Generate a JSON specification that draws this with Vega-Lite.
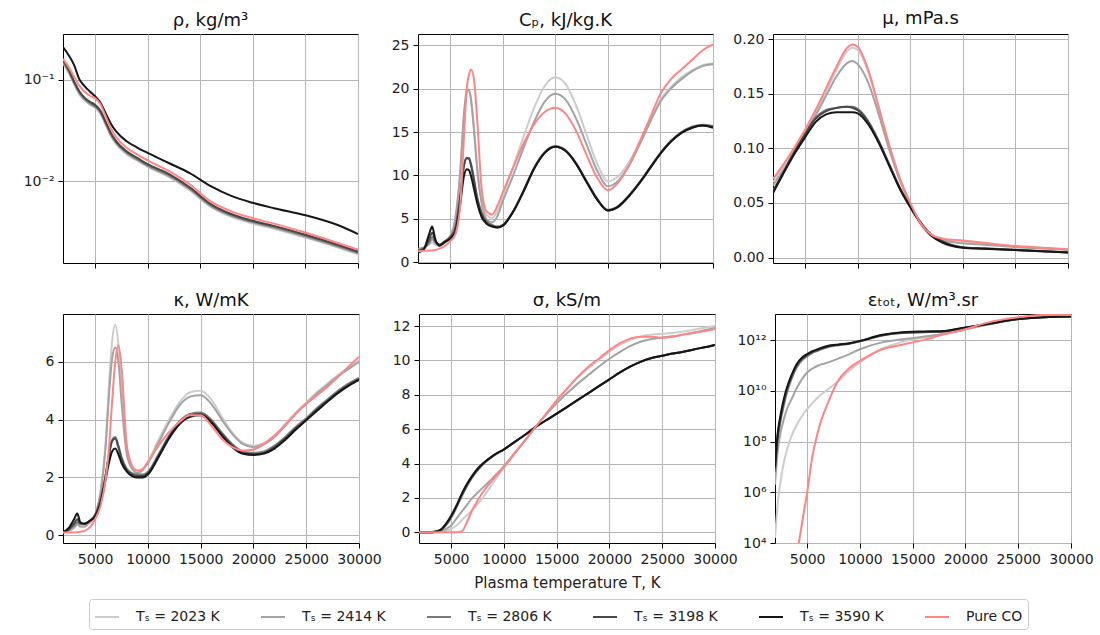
{
"$schema": "https://vega.github.io/schema/vega-lite/v6.json",
"padding": {"left": 5, "top": 9, "right": 5, "bottom": 0},
"background": "white",
"datasets": {"d": [
{"p":"rho","T":1950,"2023":0.147,"2414":0.150,"2806":0.154,"3198":0.158,"3590":0.211,"CO":0.162},
{"p":"rho","T":2500,"2023":0.117,"2414":0.120,"2806":0.123,"3198":0.126,"3590":0.175,"CO":0.134},
{"p":"rho","T":3000,"2023":0.091,"2414":0.093,"2806":0.095,"3198":0.097,"3590":0.141,"CO":0.108},
{"p":"rho","T":3500,"2023":0.072,"2414":0.074,"2806":0.0757,"3198":0.0775,"3590":0.102,"CO":0.088},
{"p":"rho","T":4000,"2023":0.0625,"2414":0.064,"2806":0.0655,"3198":0.067,"3590":0.087,"CO":0.077},
{"p":"rho","T":4500,"2023":0.057,"2414":0.058,"2806":0.0595,"3198":0.061,"3590":0.077,"CO":0.070},
{"p":"rho","T":5000,"2023":0.053,"2414":0.054,"2806":0.0554,"3198":0.0567,"3590":0.069,"CO":0.066},
{"p":"rho","T":5500,"2023":0.0465,"2414":0.0476,"2806":0.0487,"3198":0.0498,"3590":0.060,"CO":0.058},
{"p":"rho","T":6000,"2023":0.0361,"2414":0.0369,"2806":0.0378,"3198":0.0387,"3590":0.047,"CO":0.044},
{"p":"rho","T":6500,"2023":0.028,"2414":0.0286,"2806":0.0293,"3198":0.030,"3590":0.037,"CO":0.0333},
{"p":"rho","T":7000,"2023":0.0232,"2414":0.0237,"2806":0.0243,"3198":0.0249,"3590":0.031,"CO":0.0273},
{"p":"rho","T":8000,"2023":0.0184,"2414":0.0189,"2806":0.0193,"3198":0.0197,"3590":0.0248,"CO":0.0214},
{"p":"rho","T":9000,"2023":0.0159,"2414":0.0162,"2806":0.0166,"3198":0.017,"3590":0.0215,"CO":0.0184},
{"p":"rho","T":10000,"2023":0.0138,"2414":0.0141,"2806":0.0144,"3198":0.0147,"3590":0.019,"CO":0.016},
{"p":"rho","T":12000,"2023":0.011,"2414":0.0112,"2806":0.0115,"3198":0.0118,"3590":0.0151,"CO":0.0126},
{"p":"rho","T":14000,"2023":0.0081,"2414":0.0083,"2806":0.00846,"3198":0.0087,"3590":0.012,"CO":0.0093},
{"p":"rho","T":16000,"2023":0.00555,"2414":0.00567,"2806":0.0058,"3198":0.00593,"3590":0.0089,"CO":0.0063},
{"p":"rho","T":18000,"2023":0.0044,"2414":0.0045,"2806":0.0046,"3198":0.0047,"3590":0.0071,"CO":0.0050},
{"p":"rho","T":20000,"2023":0.0038,"2414":0.0039,"2806":0.00396,"3198":0.00405,"3590":0.0061,"CO":0.0043},
{"p":"rho","T":22000,"2023":0.00338,"2414":0.00345,"2806":0.00353,"3198":0.00361,"3590":0.0054,"CO":0.0038},
{"p":"rho","T":25000,"2023":0.00276,"2414":0.00282,"2806":0.00288,"3198":0.00295,"3590":0.0046,"CO":0.0031},
{"p":"rho","T":28000,"2023":0.00222,"2414":0.00226,"2806":0.00231,"3198":0.00236,"3590":0.0037,"CO":0.00246},
{"p":"rho","T":30000,"2023":0.00189,"2414":0.00193,"2806":0.00197,"3198":0.00201,"3590":0.0030,"CO":0.0021},

{"p":"cp","T":1950,"2023":1.5,"2414":1.5,"2806":1.4,"3198":1.3,"3590":1.1,"CO":1.25},
{"p":"cp","T":2500,"2023":1.7,"2414":1.7,"2806":1.6,"3198":1.5,"3590":1.5,"CO":1.3},
{"p":"cp","T":3000,"2023":2.0,"2414":2.1,"2806":2.3,"3198":2.6,"3590":3.2,"CO":1.35},
{"p":"cp","T":3300,"2023":2.3,"2414":2.6,"2806":2.9,"3198":3.4,"3590":4.1,"CO":1.35},
{"p":"cp","T":3600,"2023":2.0,"2414":2.2,"2806":2.3,"3198":2.5,"3590":2.6,"CO":1.4},
{"p":"cp","T":4000,"2023":1.9,"2414":2.0,"2806":2.0,"3198":2.0,"3590":1.9,"CO":1.55},
{"p":"cp","T":4500,"2023":2.2,"2414":2.3,"2806":2.4,"3198":2.4,"3590":2.3,"CO":1.85},
{"p":"cp","T":5000,"2023":2.9,"2414":3.0,"2806":2.9,"3198":2.8,"3590":2.7,"CO":2.4},
{"p":"cp","T":5500,"2023":5.0,"2414":5.0,"2806":4.0,"3198":3.8,"3590":3.5,"CO":3.2},
{"p":"cp","T":6000,"2023":11.0,"2414":11.0,"2806":8.0,"3198":7.8,"3590":7.0,"CO":7.0},
{"p":"cp","T":6300,"2023":16.5,"2414":16.8,"2806":11.0,"3198":11.0,"3590":9.8,"CO":14.0},
{"p":"cp","T":6600,"2023":19.5,"2414":19.8,"2806":12.0,"3198":12.0,"3590":10.7,"CO":20.2},
{"p":"cp","T":6800,"2023":19.8,"2414":19.9,"2806":12.0,"3198":11.9,"3590":10.6,"CO":21.6},
{"p":"cp","T":7000,"2023":18.8,"2414":18.6,"2806":11.3,"3198":11.1,"3590":9.9,"CO":22.2},
{"p":"cp","T":7300,"2023":15.2,"2414":14.8,"2806":9.4,"3198":9.2,"3590":8.3,"CO":20.8},
{"p":"cp","T":7600,"2023":10.8,"2414":10.4,"2806":7.4,"3198":7.2,"3590":6.7,"CO":16.0},
{"p":"cp","T":8000,"2023":7.2,"2414":6.8,"2806":5.7,"3198":5.5,"3590":5.2,"CO":8.5},
{"p":"cp","T":8500,"2023":5.4,"2414":4.9,"2806":4.7,"3198":4.5,"3590":4.4,"CO":5.8},
{"p":"cp","T":9000,"2023":5.1,"2414":4.6,"2806":4.3,"3198":4.15,"3590":4.1,"CO":5.5},
{"p":"cp","T":9500,"2023":5.9,"2414":5.3,"2806":4.1,"3198":4.0,"3590":4.0,"CO":6.5},
{"p":"cp","T":10000,"2023":7.6,"2414":7.0,"2806":4.3,"3198":4.2,"3590":4.2,"CO":8.0},
{"p":"cp","T":11000,"2023":11.0,"2414":10.0,"2806":5.9,"3198":5.8,"3590":5.8,"CO":10.9},
{"p":"cp","T":12000,"2023":14.5,"2414":13.2,"2806":8.3,"3198":8.2,"3590":8.2,"CO":13.7},
{"p":"cp","T":13000,"2023":17.8,"2414":16.2,"2806":10.9,"3198":10.8,"3590":10.8,"CO":15.9},
{"p":"cp","T":14000,"2023":20.3,"2414":18.5,"2806":12.7,"3198":12.6,"3590":12.6,"CO":17.3},
{"p":"cp","T":15000,"2023":21.3,"2414":19.4,"2806":13.4,"3198":13.3,"3590":13.3,"CO":17.8},
{"p":"cp","T":16000,"2023":20.5,"2414":18.7,"2806":12.9,"3198":12.8,"3590":12.8,"CO":17.1},
{"p":"cp","T":17000,"2023":18.0,"2414":16.5,"2806":11.4,"3198":11.3,"3590":11.3,"CO":15.1},
{"p":"cp","T":18000,"2023":14.6,"2414":13.5,"2806":9.3,"3198":9.2,"3590":9.2,"CO":12.3},
{"p":"cp","T":19000,"2023":11.3,"2414":10.5,"2806":7.3,"3198":7.2,"3590":7.2,"CO":9.7},
{"p":"cp","T":20000,"2023":9.3,"2414":8.75,"2806":6.05,"3198":5.95,"3590":5.95,"CO":8.3},
{"p":"cp","T":21000,"2023":9.9,"2414":9.4,"2806":6.5,"3198":6.4,"3590":6.4,"CO":9.2},
{"p":"cp","T":22000,"2023":11.5,"2414":11.1,"2806":7.7,"3198":7.6,"3590":7.6,"CO":11.1},
{"p":"cp","T":23000,"2023":13.8,"2414":13.5,"2806":9.2,"3198":9.1,"3590":9.1,"CO":13.8},
{"p":"cp","T":24000,"2023":16.3,"2414":16.1,"2806":10.9,"3198":10.8,"3590":10.8,"CO":16.6},
{"p":"cp","T":25000,"2023":18.7,"2414":18.5,"2806":12.6,"3198":12.5,"3590":12.5,"CO":19.4},
{"p":"cp","T":26000,"2023":20.2,"2414":20.0,"2806":14.0,"3198":13.9,"3590":13.9,"CO":21.1},
{"p":"cp","T":27000,"2023":21.3,"2414":21.1,"2806":15.0,"3198":14.9,"3590":14.9,"CO":22.2},
{"p":"cp","T":28000,"2023":22.1,"2414":22.0,"2806":15.6,"3198":15.5,"3590":15.5,"CO":23.3},
{"p":"cp","T":29000,"2023":22.7,"2414":22.6,"2806":15.85,"3198":15.75,"3590":15.75,"CO":24.4},
{"p":"cp","T":30000,"2023":22.9,"2414":22.8,"2806":15.7,"3198":15.6,"3590":15.5,"CO":25.1},

{"p":"mu","T":1950,"2023":0.069,"2414":0.066,"2806":0.061,"3198":0.060,"3590":0.059,"CO":0.072},
{"p":"mu","T":3000,"2023":0.084,"2414":0.081,"2806":0.079,"3198":0.079,"3590":0.078,"CO":0.086},
{"p":"mu","T":4000,"2023":0.099,"2414":0.097,"2806":0.097,"3198":0.097,"3590":0.095,"CO":0.101},
{"p":"mu","T":5000,"2023":0.115,"2414":0.113,"2806":0.113,"3198":0.113,"3590":0.110,"CO":0.117},
{"p":"mu","T":6000,"2023":0.133,"2414":0.130,"2806":0.128,"3198":0.127,"3590":0.124,"CO":0.135},
{"p":"mu","T":7000,"2023":0.152,"2414":0.148,"2806":0.135,"3198":0.134,"3590":0.131,"CO":0.155},
{"p":"mu","T":8000,"2023":0.172,"2414":0.166,"2806":0.137,"3198":0.137,"3590":0.133,"CO":0.175},
{"p":"mu","T":9000,"2023":0.189,"2414":0.178,"2806":0.138,"3198":0.138,"3590":0.133,"CO":0.192},
{"p":"mu","T":9500,"2023":0.192,"2414":0.180,"2806":0.138,"3198":0.137,"3590":0.133,"CO":0.195},
{"p":"mu","T":10000,"2023":0.190,"2414":0.177,"2806":0.136,"3198":0.135,"3590":0.132,"CO":0.193},
{"p":"mu","T":11000,"2023":0.170,"2414":0.160,"2806":0.125,"3198":0.124,"3590":0.122,"CO":0.172},
{"p":"mu","T":12000,"2023":0.137,"2414":0.131,"2806":0.107,"3198":0.106,"3590":0.105,"CO":0.138},
{"p":"mu","T":13000,"2023":0.102,"2414":0.099,"2806":0.0855,"3198":0.085,"3590":0.084,"CO":0.103},
{"p":"mu","T":14000,"2023":0.072,"2414":0.071,"2806":0.064,"3198":0.064,"3590":0.063,"CO":0.073},
{"p":"mu","T":15000,"2023":0.050,"2414":0.049,"2806":0.047,"3198":0.047,"3590":0.046,"CO":0.050},
{"p":"mu","T":16000,"2023":0.031,"2414":0.031,"2806":0.032,"3198":0.032,"3590":0.031,"CO":0.031},
{"p":"mu","T":17000,"2023":0.021,"2414":0.020,"2806":0.021,"3198":0.021,"3590":0.020,"CO":0.021},
{"p":"mu","T":18000,"2023":0.017,"2414":0.016,"2806":0.0153,"3198":0.015,"3590":0.014,"CO":0.0175},
{"p":"mu","T":20000,"2023":0.0148,"2414":0.013,"2806":0.0095,"3198":0.0093,"3590":0.009,"CO":0.0155},
{"p":"mu","T":22000,"2023":0.013,"2414":0.0118,"2806":0.0085,"3198":0.0083,"3590":0.008,"CO":0.0135},
{"p":"mu","T":25000,"2023":0.0102,"2414":0.0095,"2806":0.0072,"3198":0.007,"3590":0.0068,"CO":0.0105},
{"p":"mu","T":28000,"2023":0.0085,"2414":0.008,"2806":0.0058,"3198":0.0056,"3590":0.0055,"CO":0.0088},
{"p":"mu","T":30000,"2023":0.0072,"2414":0.007,"2806":0.0048,"3198":0.0046,"3590":0.0045,"CO":0.0075},

{"p":"k","T":1950,"2023":0.1,"2414":0.1,"2806":0.1,"3198":0.1,"3590":0.1,"CO":0.09},
{"p":"k","T":2500,"2023":0.15,"2414":0.15,"2806":0.2,"3198":0.2,"3590":0.25,"CO":0.09},
{"p":"k","T":3000,"2023":0.25,"2414":0.27,"2806":0.35,"3198":0.4,"3590":0.55,"CO":0.09},
{"p":"k","T":3300,"2023":0.35,"2414":0.4,"2806":0.45,"3198":0.55,"3590":0.75,"CO":0.1},
{"p":"k","T":3600,"2023":0.3,"2414":0.3,"2806":0.4,"3198":0.4,"3590":0.45,"CO":0.12},
{"p":"k","T":4000,"2023":0.3,"2414":0.3,"2806":0.4,"3198":0.4,"3590":0.4,"CO":0.15},
{"p":"k","T":4500,"2023":0.45,"2414":0.45,"2806":0.5,"3198":0.5,"3590":0.5,"CO":0.27},
{"p":"k","T":5000,"2023":0.7,"2414":0.7,"2806":0.7,"3198":0.7,"3590":0.65,"CO":0.56},
{"p":"k","T":5500,"2023":1.5,"2414":1.45,"2806":1.2,"3198":1.2,"3590":1.1,"CO":1.0},
{"p":"k","T":6000,"2023":3.3,"2414":3.1,"2806":2.1,"3198":2.1,"3590":1.95,"CO":1.95},
{"p":"k","T":6300,"2023":5.2,"2414":4.8,"2806":2.8,"3198":2.75,"3590":2.5,"CO":3.0},
{"p":"k","T":6600,"2023":6.7,"2414":6.1,"2806":3.3,"3198":3.25,"3590":2.9,"CO":4.6},
{"p":"k","T":6900,"2023":7.3,"2414":6.5,"2806":3.4,"3198":3.35,"3590":3.0,"CO":6.0},
{"p":"k","T":7200,"2023":6.6,"2414":6.0,"2806":3.1,"3198":3.05,"3590":2.8,"CO":6.58},
{"p":"k","T":7500,"2023":5.0,"2414":4.6,"2806":2.7,"3198":2.65,"3590":2.5,"CO":5.8},
{"p":"k","T":8000,"2023":3.0,"2414":2.8,"2806":2.3,"3198":2.25,"3590":2.2,"CO":3.1},
{"p":"k","T":8500,"2023":2.35,"2414":2.3,"2806":2.15,"3198":2.1,"3590":2.05,"CO":2.41},
{"p":"k","T":9000,"2023":2.2,"2414":2.15,"2806":2.1,"3198":2.05,"3590":2.0,"CO":2.24},
{"p":"k","T":9500,"2023":2.3,"2414":2.25,"2806":2.1,"3198":2.05,"3590":2.0,"CO":2.29},
{"p":"k","T":10000,"2023":2.55,"2414":2.5,"2806":2.2,"3198":2.15,"3590":2.1,"CO":2.53},
{"p":"k","T":11000,"2023":3.3,"2414":3.2,"2806":2.8,"3198":2.75,"3590":2.7,"CO":3.1},
{"p":"k","T":12000,"2023":4.0,"2414":3.9,"2806":3.45,"3198":3.4,"3590":3.35,"CO":3.57},
{"p":"k","T":13000,"2023":4.6,"2414":4.5,"2806":3.95,"3198":3.9,"3590":3.85,"CO":3.92},
{"p":"k","T":14000,"2023":4.95,"2414":4.8,"2806":4.2,"3198":4.15,"3590":4.1,"CO":4.15},
{"p":"k","T":15000,"2023":5.0,"2414":4.85,"2806":4.25,"3198":4.2,"3590":4.15,"CO":4.15},
{"p":"k","T":16000,"2023":4.7,"2414":4.55,"2806":4.0,"3198":3.95,"3590":3.9,"CO":3.8},
{"p":"k","T":17000,"2023":4.1,"2414":4.0,"2806":3.55,"3198":3.5,"3590":3.45,"CO":3.34},
{"p":"k","T":18000,"2023":3.55,"2414":3.5,"2806":3.15,"3198":3.1,"3590":3.05,"CO":3.05},
{"p":"k","T":19000,"2023":3.2,"2414":3.15,"2806":2.9,"3198":2.85,"3590":2.82,"CO":2.93},
{"p":"k","T":20000,"2023":3.1,"2414":3.05,"2806":2.85,"3198":2.8,"3590":2.78,"CO":2.97},
{"p":"k","T":21000,"2023":3.2,"2414":3.15,"2806":2.9,"3198":2.85,"3590":2.83,"CO":3.16},
{"p":"k","T":22000,"2023":3.45,"2414":3.4,"2806":3.1,"3198":3.05,"3590":3.0,"CO":3.45},
{"p":"k","T":23000,"2023":3.85,"2414":3.8,"2806":3.4,"3198":3.35,"3590":3.3,"CO":3.8},
{"p":"k","T":24000,"2023":4.25,"2414":4.2,"2806":3.75,"3198":3.7,"3590":3.65,"CO":4.2},
{"p":"k","T":25000,"2023":4.6,"2414":4.55,"2806":4.05,"3198":4.0,"3590":3.98,"CO":4.55},
{"p":"k","T":26000,"2023":4.95,"2414":4.9,"2806":4.4,"3198":4.35,"3590":4.3,"CO":4.84},
{"p":"k","T":27000,"2023":5.25,"2414":5.2,"2806":4.7,"3198":4.65,"3590":4.62,"CO":5.13},
{"p":"k","T":28000,"2023":5.55,"2414":5.5,"2806":5.0,"3198":4.95,"3590":4.92,"CO":5.48},
{"p":"k","T":29000,"2023":5.8,"2414":5.75,"2806":5.25,"3198":5.2,"3590":5.17,"CO":5.83},
{"p":"k","T":30000,"2023":6.05,"2414":6.0,"2806":5.45,"3198":5.4,"3590":5.38,"CO":6.18},

{"p":"sig","T":1950,"2023":0,"2414":0,"2806":0,"3198":0,"3590":0,"CO":0},
{"p":"sig","T":3000,"2023":0,"2414":0,"2806":0,"3198":0,"3590":0,"CO":0},
{"p":"sig","T":3500,"2023":0,"2414":0.01,"2806":0.03,"3198":0.04,"3590":0.05,"CO":0},
{"p":"sig","T":4000,"2023":0.02,"2414":0.05,"2806":0.12,"3198":0.14,"3590":0.15,"CO":0},
{"p":"sig","T":4500,"2023":0.08,"2414":0.2,"2806":0.4,"3198":0.45,"3590":0.5,"CO":0},
{"p":"sig","T":5000,"2023":0.2,"2414":0.4,"2806":0.85,"3198":0.92,"3590":0.97,"CO":0},
{"p":"sig","T":5500,"2023":0.4,"2414":0.8,"2806":1.45,"3198":1.5,"3590":1.56,"CO":0},
{"p":"sig","T":6000,"2023":0.7,"2414":1.2,"2806":2.1,"3198":2.17,"3590":2.24,"CO":0.05},
{"p":"sig","T":6500,"2023":1.0,"2414":1.6,"2806":2.7,"3198":2.76,"3590":2.82,"CO":0.6},
{"p":"sig","T":7000,"2023":1.3,"2414":2.0,"2806":3.2,"3198":3.25,"3590":3.3,"CO":1.3},
{"p":"sig","T":7500,"2023":1.65,"2414":2.3,"2806":3.6,"3198":3.65,"3590":3.7,"CO":1.85},
{"p":"sig","T":8000,"2023":2.0,"2414":2.6,"2806":3.95,"3198":3.97,"3590":4.0,"CO":2.33},
{"p":"sig","T":9000,"2023":2.9,"2414":3.2,"2806":4.45,"3198":4.46,"3590":4.48,"CO":3.1},
{"p":"sig","T":10000,"2023":3.8,"2414":3.85,"2806":4.82,"3198":4.82,"3590":4.83,"CO":3.8},
{"p":"sig","T":11000,"2023":4.6,"2414":4.6,"2806":5.25,"3198":5.25,"3590":5.25,"CO":4.57},
{"p":"sig","T":12000,"2023":5.35,"2414":5.35,"2806":5.68,"3198":5.68,"3590":5.68,"CO":5.35},
{"p":"sig","T":13000,"2023":6.13,"2414":6.13,"2806":6.13,"3198":6.13,"3590":6.13,"CO":6.13},
{"p":"sig","T":14000,"2023":6.9,"2414":6.85,"2806":6.52,"3198":6.52,"3590":6.52,"CO":6.9},
{"p":"sig","T":15000,"2023":7.65,"2414":7.5,"2806":6.9,"3198":6.9,"3590":6.9,"CO":7.68},
{"p":"sig","T":16000,"2023":8.35,"2414":8.1,"2806":7.3,"3198":7.3,"3590":7.3,"CO":8.37},
{"p":"sig","T":17000,"2023":9.0,"2414":8.65,"2806":7.7,"3198":7.7,"3590":7.7,"CO":9.05},
{"p":"sig","T":18000,"2023":9.55,"2414":9.15,"2806":8.1,"3198":8.1,"3590":8.1,"CO":9.63},
{"p":"sig","T":19000,"2023":10.05,"2414":9.65,"2806":8.5,"3198":8.5,"3590":8.5,"CO":10.1},
{"p":"sig","T":20000,"2023":10.5,"2414":10.1,"2806":8.9,"3198":8.9,"3590":8.9,"CO":10.6},
{"p":"sig","T":21000,"2023":10.9,"2414":10.5,"2806":9.3,"3198":9.3,"3590":9.3,"CO":11.0},
{"p":"sig","T":22000,"2023":11.2,"2414":10.85,"2806":9.65,"3198":9.65,"3590":9.65,"CO":11.28},
{"p":"sig","T":23000,"2023":11.4,"2414":11.1,"2806":9.93,"3198":9.93,"3590":9.93,"CO":11.38},
{"p":"sig","T":24000,"2023":11.5,"2414":11.25,"2806":10.14,"3198":10.14,"3590":10.14,"CO":11.38},
{"p":"sig","T":25000,"2023":11.55,"2414":11.33,"2806":10.27,"3198":10.27,"3590":10.27,"CO":11.32},
{"p":"sig","T":26000,"2023":11.6,"2414":11.4,"2806":10.4,"3198":10.4,"3590":10.4,"CO":11.38},
{"p":"sig","T":27000,"2023":11.68,"2414":11.5,"2806":10.5,"3198":10.5,"3590":10.5,"CO":11.5},
{"p":"sig","T":28000,"2023":11.78,"2414":11.6,"2806":10.64,"3198":10.64,"3590":10.64,"CO":11.63},
{"p":"sig","T":29000,"2023":11.9,"2414":11.75,"2806":10.76,"3198":10.76,"3590":10.76,"CO":11.7},
{"p":"sig","T":30000,"2023":12.0,"2414":11.9,"2806":10.9,"3198":10.9,"3590":10.9,"CO":11.83},

{"p":"eps","T":1950,"2023":1.58e4,"2414":2.0e6,"2806":6.31e6,"3198":7.94e6,"3590":1e7},
{"p":"eps","T":2200,"2023":3.16e5,"2414":3.98e7,"2806":1.12e8,"3198":1.58e8,"3590":2.0e8},
{"p":"eps","T":2500,"2023":3.16e6,"2414":2.51e8,"2806":7.08e8,"3198":1e9,"3590":1.26e9},
{"p":"eps","T":2800,"2023":1.58e7,"2414":7.94e8,"2806":2.82e9,"3198":3.98e9,"3590":5.0e9},
{"p":"eps","T":3100,"2023":5.01e7,"2414":2.0e9,"2806":8.91e9,"3198":1.26e10,"3590":1.41e10},
{"p":"eps","T":3500,"2023":1.58e8,"2414":4.47e9,"2806":2.82e10,"3198":3.55e10,"3590":3.98e10,"CO":31.6},
{"p":"eps","T":4000,"2023":4.47e8,"2414":1.26e10,"2806":8.32e10,"3198":1e11,"3590":1.12e11,"CO":2510},
{"p":"eps","T":4500,"2023":1e9,"2414":2.82e10,"2806":1.58e11,"3198":1.86e11,"3590":2.0e11,"CO":5.62e4},
{"p":"eps","T":5000,"2023":1.91e9,"2414":5.25e10,"2806":2.34e11,"3198":2.63e11,"3590":2.82e11,"CO":1e6},
{"p":"eps","T":5500,"2023":3.31e9,"2414":7.59e10,"2806":3.16e11,"3198":3.47e11,"3590":3.63e11,"CO":2.69e7},
{"p":"eps","T":6000,"2023":5.5e9,"2414":9.77e10,"2806":3.8e11,"3198":4.17e11,"3590":4.37e11,"CO":2.29e8},
{"p":"eps","T":7000,"2023":1.17e10,"2414":1.32e11,"2806":5.37e11,"3198":5.75e11,"3590":6.03e11,"CO":3.63e9},
{"p":"eps","T":8000,"2023":2.51e10,"2414":1.91e11,"2806":6.31e11,"3198":6.61e11,"3590":6.76e11,"CO":2.82e10},
{"p":"eps","T":9000,"2023":6.31e10,"2414":2.82e11,"2806":7.24e11,"3198":7.41e11,"3590":7.59e11,"CO":7.94e10},
{"p":"eps","T":10000,"2023":1.32e11,"2414":4.37e11,"2806":8.91e11,"3198":9.12e11,"3590":9.33e11,"CO":1.51e11},
{"p":"eps","T":12000,"2023":4.37e11,"2414":7.94e11,"2806":1.48e12,"3198":1.51e12,"3590":1.58e12,"CO":4.17e11},
{"p":"eps","T":14000,"2023":8.51e11,"2414":1.07e12,"2806":1.91e12,"3198":1.95e12,"3590":2.04e12,"CO":6.61e11},
{"p":"eps","T":16000,"2023":1.26e12,"2414":1.35e12,"2806":2.04e12,"3198":2.09e12,"3590":2.19e12,"CO":1e12},
{"p":"eps","T":18000,"2023":1.78e12,"2414":1.78e12,"2806":2.19e12,"3198":2.24e12,"3590":2.29e12,"CO":1.7e12},
{"p":"eps","T":20000,"2023":2.57e12,"2414":2.69e12,"2806":3.02e12,"3198":3.09e12,"3590":3.16e12,"CO":2.69e12},
{"p":"eps","T":22000,"2023":3.98e12,"2414":3.98e12,"2806":4.17e12,"3198":4.17e12,"3590":4.27e12,"CO":4.79e12},
{"p":"eps","T":25000,"2023":6.76e12,"2414":6.76e12,"2806":6.76e12,"3198":6.76e12,"3590":6.76e12,"CO":7.94e12},
{"p":"eps","T":28000,"2023":8.91e12,"2414":8.51e12,"2806":8.13e12,"3198":8.13e12,"3590":8.13e12,"CO":1e13},
{"p":"eps","T":30000,"2023":9.77e12,"2414":9.12e12,"2806":8.51e12,"3198":8.51e12,"3590":8.51e12,"CO":9.77e12}
]},
"spacing": 21,
"columns": 1,
"align": "none",
"concat": [
{"hconcat": [
{"width": 295, "height": 229, "title": "ρ, kg/m³",
 "data": {"name": "d"},
 "transform": [{"filter": "datum.p == 'rho'"}, {"fold": ["2023","2414","2806","3198","3590","CO"], "as": ["s","v"]}],
 "mark": {"type": "line", "clip": true, "interpolate": "monotone", "strokeWidth": 2},
 "encoding": {
  "x": {"field": "T", "type": "quantitative", "scale": {"domain": [1950, 30000], "nice": false, "zero": false}, "axis": {"values": [5000,10000,15000,20000,25000,30000], "labels": false, "title": null}},
  "y": {"field": "v", "type": "quantitative", "scale": {"type": "log", "domain": [0.00155, 0.285], "nice": false}, "axis": {"values": [0.01, 0.1], "labelExpr": "datum.value < 0.05 ? '10⁻²' : '10⁻¹'", "title": null, "minExtent": 48, "maxExtent": 48}},
  "color": {"field": "s", "type": "nominal", "scale": {"domain": ["2023","2414","2806","3198","3590","CO"], "range": ["#cccccc","#a3a3a3","#7a7a7a","#474747","#161616","#ff8585"]},
   "legend": {"orient": "none", "legendX": 26, "legendY": 565, "direction": "horizontal", "columns": 6, "title": null, "symbolType": "stroke", "symbolSize": 576, "symbolStrokeWidth": 2, "labelFontSize": 14, "labelOffset": 16, "columnPadding": 37, "padding": 5, "strokeColor": "#cccccc", "cornerRadius": 3, "fillColor": "white", "labelExpr": "datum.label == 'CO' ? 'Pure CO' : 'Tₛ = ' + datum.label + ' K'"}}
 }},
{"width": 295, "height": 229, "title": "Cₚ, kJ/kg.K",
 "data": {"name": "d"},
 "transform": [{"filter": "datum.p == 'cp'"}, {"fold": ["2023","2414","2806","3198","3590","CO"], "as": ["s","v"]}],
 "mark": {"type": "line", "clip": true, "interpolate": "monotone", "strokeWidth": 2},
 "encoding": {
  "x": {"field": "T", "type": "quantitative", "scale": {"domain": [1950, 30000], "nice": false, "zero": false}, "axis": {"values": [5000,10000,15000,20000,25000,30000], "labels": false, "title": null}},
  "y": {"field": "v", "type": "quantitative", "scale": {"domain": [-0.1, 26.3], "nice": false, "zero": false}, "axis": {"values": [0,5,10,15,20,25], "format": "d", "title": null}},
  "color": {"field": "s", "type": "nominal", "scale": {"domain": ["2023","2414","2806","3198","3590","CO"], "range": ["#cccccc","#a3a3a3","#7a7a7a","#474747","#161616","#ff8585"]},
   "legend": {"orient": "none", "legendX": 26, "legendY": 565, "direction": "horizontal", "columns": 6, "title": null, "symbolType": "stroke", "symbolSize": 576, "symbolStrokeWidth": 2, "labelFontSize": 14, "labelOffset": 16, "columnPadding": 37, "padding": 5, "strokeColor": "#cccccc", "cornerRadius": 3, "fillColor": "white", "labelExpr": "datum.label == 'CO' ? 'Pure CO' : 'Tₛ = ' + datum.label + ' K'"}}
 }},
{"width": 295, "height": 229, "title": "μ, mPa.s",
 "data": {"name": "d"},
 "transform": [{"filter": "datum.p == 'mu'"}, {"fold": ["2023","2414","2806","3198","3590","CO"], "as": ["s","v"]}],
 "mark": {"type": "line", "clip": true, "interpolate": "monotone", "strokeWidth": 2},
 "encoding": {
  "x": {"field": "T", "type": "quantitative", "scale": {"domain": [1950, 30000], "nice": false, "zero": false}, "axis": {"values": [5000,10000,15000,20000,25000,30000], "labels": false, "title": null}},
  "y": {"field": "v", "type": "quantitative", "scale": {"domain": [-0.005, 0.2046], "nice": false, "zero": false}, "axis": {"values": [0,0.05,0.1,0.15,0.2], "format": ".2f", "title": null}},
  "color": {"field": "s", "type": "nominal", "scale": {"domain": ["2023","2414","2806","3198","3590","CO"], "range": ["#cccccc","#a3a3a3","#7a7a7a","#474747","#161616","#ff8585"]},
   "legend": {"orient": "none", "legendX": 26, "legendY": 565, "direction": "horizontal", "columns": 6, "title": null, "symbolType": "stroke", "symbolSize": 576, "symbolStrokeWidth": 2, "labelFontSize": 14, "labelOffset": 16, "columnPadding": 37, "padding": 5, "strokeColor": "#cccccc", "cornerRadius": 3, "fillColor": "white", "labelExpr": "datum.label == 'CO' ? 'Pure CO' : 'Tₛ = ' + datum.label + ' K'"}}
 }}
], "spacing": 60, "bounds": "flush"},
{"hconcat": [
{"width": 296, "height": 229, "title": "κ, W/mK",
 "data": {"name": "d"},
 "transform": [{"filter": "datum.p == 'k'"}, {"fold": ["2023","2414","2806","3198","3590","CO"], "as": ["s","v"]}],
 "mark": {"type": "line", "clip": true, "interpolate": "monotone", "strokeWidth": 2},
 "encoding": {
  "x": {"field": "T", "type": "quantitative", "scale": {"domain": [1950, 30000], "nice": false, "zero": false}, "axis": {"values": [5000,10000,15000,20000,25000,30000], "format": "d", "labelFlush": false, "title": null}},
  "y": {"field": "v", "type": "quantitative", "scale": {"domain": [-0.27, 7.66], "nice": false, "zero": false}, "axis": {"values": [0,2,4,6], "format": "d", "title": null, "minExtent": 57, "maxExtent": 57}},
  "color": {"field": "s", "type": "nominal", "scale": {"domain": ["2023","2414","2806","3198","3590","CO"], "range": ["#cccccc","#a3a3a3","#7a7a7a","#474747","#161616","#ff8585"]},
   "legend": {"orient": "none", "legendX": 26, "legendY": 565, "direction": "horizontal", "columns": 6, "title": null, "symbolType": "stroke", "symbolSize": 576, "symbolStrokeWidth": 2, "labelFontSize": 14, "labelOffset": 16, "columnPadding": 37, "padding": 5, "strokeColor": "#cccccc", "cornerRadius": 3, "fillColor": "white", "labelExpr": "datum.label == 'CO' ? 'Pure CO' : 'Tₛ = ' + datum.label + ' K'"}}
 }},
{"width": 296, "height": 229, "title": "σ, kS/m",
 "data": {"name": "d"},
 "transform": [{"filter": "datum.p == 'sig'"}, {"fold": ["2023","2414","2806","3198","3590","CO"], "as": ["s","v"]}],
 "mark": {"type": "line", "clip": true, "interpolate": "monotone", "strokeWidth": 2},
 "encoding": {
  "x": {"field": "T", "type": "quantitative", "scale": {"domain": [1950, 30000], "nice": false, "zero": false}, "axis": {"values": [5000,10000,15000,20000,25000,30000], "format": "d", "labelFlush": false, "title": "Plasma temperature T, K", "titlePadding": 9}},
  "y": {"field": "v", "type": "quantitative", "scale": {"domain": [-0.62, 12.7], "nice": false, "zero": false}, "axis": {"values": [0,2,4,6,8,10,12], "format": "d", "title": null}},
  "color": {"field": "s", "type": "nominal", "scale": {"domain": ["2023","2414","2806","3198","3590","CO"], "range": ["#cccccc","#a3a3a3","#7a7a7a","#474747","#161616","#ff8585"]},
   "legend": {"orient": "none", "legendX": 26, "legendY": 565, "direction": "horizontal", "columns": 6, "title": null, "symbolType": "stroke", "symbolSize": 576, "symbolStrokeWidth": 2, "labelFontSize": 14, "labelOffset": 16, "columnPadding": 37, "padding": 5, "strokeColor": "#cccccc", "cornerRadius": 3, "fillColor": "white", "labelExpr": "datum.label == 'CO' ? 'Pure CO' : 'Tₛ = ' + datum.label + ' K'"}}
 }},
{"width": 296, "height": 229, "title": "εₜₒₜ, W/m³.sr",
 "data": {"name": "d"},
 "transform": [{"filter": "datum.p == 'eps'"}, {"fold": ["2023","2414","2806","3198","3590","CO"], "as": ["s","v"]}],
 "mark": {"type": "line", "clip": true, "interpolate": "monotone", "strokeWidth": 2},
 "encoding": {
  "x": {"field": "T", "type": "quantitative", "scale": {"domain": [1950, 30000], "nice": false, "zero": false}, "axis": {"values": [5000,10000,15000,20000,25000,30000], "format": "d", "labelFlush": false, "title": null}},
  "y": {"field": "v", "type": "quantitative", "scale": {"type": "log", "domain": [1e4, 1.07e13], "nice": false}, "axis": {"values": [1e4,1e6,1e8,1e10,1e12], "labelExpr": "datum.value < 1e5 ? '10⁴' : datum.value < 1e7 ? '10⁶' : datum.value < 1e9 ? '10⁸' : datum.value < 1e11 ? '10¹⁰' : '10¹²'", "title": null}},
  "color": {"field": "s", "type": "nominal", "scale": {"domain": ["2023","2414","2806","3198","3590","CO"], "range": ["#cccccc","#a3a3a3","#7a7a7a","#474747","#161616","#ff8585"]},
   "legend": {"orient": "none", "legendX": 26, "legendY": 565, "direction": "horizontal", "columns": 6, "title": null, "symbolType": "stroke", "symbolSize": 576, "symbolStrokeWidth": 2, "labelFontSize": 14, "labelOffset": 16, "columnPadding": 37, "padding": 5, "strokeColor": "#cccccc", "cornerRadius": 3, "fillColor": "white", "labelExpr": "datum.label == 'CO' ? 'Pure CO' : 'Tₛ = ' + datum.label + ' K'"}}
 }}
], "spacing": 60, "bounds": "flush"}
],
"config": {
 "font": "DejaVu Sans",
 "view": {"stroke": "#000000", "strokeWidth": 1},
 "axis": {"domain": false, "grid": true, "gridColor": "#b5b5b5", "gridWidth": 1, "tickColor": "#000000", "tickSize": 5, "labelFont": "DejaVu Sans", "labelFontSize": 14, "labelColor": "#222222", "labelPadding": 4, "titleFont": "DejaVu Sans", "titleFontSize": 15, "titleFontWeight": "normal", "titleColor": "#222222", "titlePadding": 4},
 "title": {"font": "DejaVu Sans", "fontSize": 18, "fontWeight": "normal", "color": "#111111", "offset": 4, "anchor": "middle"},
 "legend": {"labelFont": "DejaVu Sans", "labelColor": "#222222"}
}
}
